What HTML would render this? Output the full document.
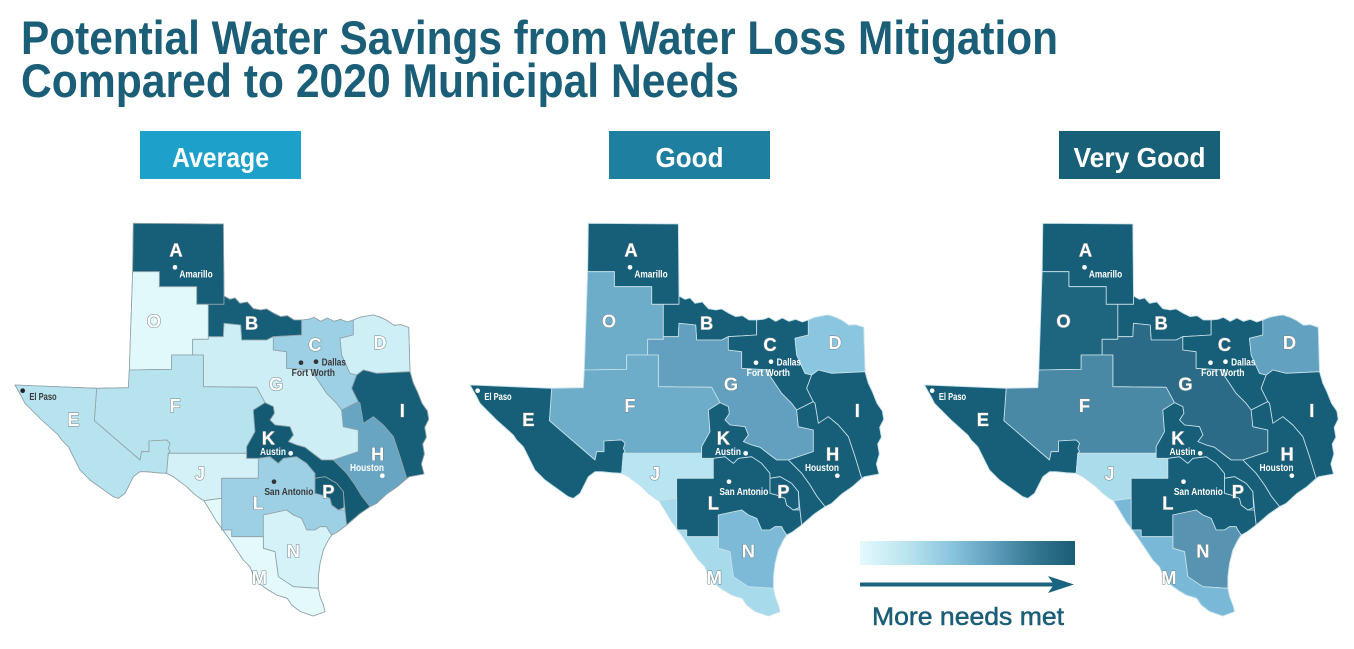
<!DOCTYPE html>
<html>
<head>
<meta charset="utf-8">
<style>
html,body{margin:0;padding:0;background:#ffffff;}
svg{display:block;}
.t{font-family:"Liberation Sans",sans-serif;font-weight:bold;fill:#1a5e77;}
.lt{font-family:"Liberation Sans",sans-serif;font-weight:bold;font-size:55px;fill:#ffffff;stroke:#6f8288;stroke-width:3;paint-order:stroke;text-anchor:middle;}
.ct{font-family:"Liberation Sans",sans-serif;font-weight:bold;font-size:29px;}
</style>
</head>
<body>
<svg width="1354" height="649" viewBox="0 0 1354 649" xmlns="http://www.w3.org/2000/svg">
<defs>
<linearGradient id="lg" x1="0" y1="0" x2="1" y2="0">
<stop offset="0" stop-color="#e3fafd"/>
<stop offset="0.22" stop-color="#b9e4ef"/>
<stop offset="0.42" stop-color="#8bc6df"/>
<stop offset="0.62" stop-color="#5f9ebc"/>
<stop offset="0.82" stop-color="#33768f"/>
<stop offset="1" stop-color="#1a5c75"/>
</linearGradient>
<polygon id="pOUT" points="400,40 670,42 672,258 690,268 705,264 720,280 742,276 760,296 782,300 800,297 822,310 842,320 862,317 882,330 905,330 925,328 942,322 962,334 982,324 1002,334 1022,328 1042,336 1060,330 1080,322 1100,318 1120,315 1142,322 1162,332 1182,346 1202,344 1226,352 1230,485 1240,520 1252,545 1266,580 1282,603 1286,628 1274,652 1279,682 1268,702 1273,732 1264,762 1272,792 1228,800 1192,830 1160,852 1130,880 1110,890 1078,912 1040,945 1012,966 995,975 985,990 970,1020 960,1060 955,1100 955,1135 960,1160 970,1185 975,1205 940,1218 900,1204 875,1185 862,1165 830,1155 805,1140 780,1122 762,1100 750,1070 730,1050 710,1020 690,990 670,962 650,935 632,905 612,872 600,865 580,850 560,830 540,815 520,800 500,790 470,788 440,785 420,785 400,800 385,830 375,850 355,865 340,860 305,835 270,810 240,780 220,740 205,710 185,690 175,675 125,630 95,600 75,580 65,560 45,525 290,535 385,533 388,480 398,185"/>
<polygon id="pA" points="400,40 670,42 672,258 672,283 590,283 590,230 478,230 478,185 398,185"/>
<polygon id="pO" points="398,185 478,185 478,230 590,230 590,283 625,283 625,388 578,388 578,435 515,435 515,478 388,480"/>
<polygon id="pB" points="625,283 672,283 672,258 690,268 705,264 720,280 742,276 760,296 782,300 800,297 822,310 842,320 862,317 882,330 905,330 905,375 820,380 800,390 725,390 722,345 672,340 670,380 625,380"/>
<polygon id="pG" points="578,388 625,388 625,380 670,380 672,340 722,345 725,390 800,390 820,380 820,420 860,425 860,475 945,480 940,490 980,550 1010,580 1025,600 1030,650 1075,660 1075,725 1000,750 965,750 945,735 915,712 890,705 865,695 880,675 870,650 825,645 810,630 823,610 820,590 795,578 770,532 610,530 610,435 578,435"/>
<polygon id="pC" points="905,330 925,328 942,322 962,334 982,324 1002,334 1022,328 1042,336 1060,330 1060,375 1020,385 1025,435 1050,490 1070,495 1055,535 1075,575 1025,600 1010,580 980,550 940,490 945,480 860,475 860,425 820,420 820,380 905,375"/>
<polygon id="pD" points="1060,330 1080,322 1100,318 1120,315 1142,322 1162,332 1182,346 1202,344 1226,352 1230,485 1130,490 1090,480 1070,495 1050,490 1025,435 1020,385 1060,375"/>
<polygon id="pI" points="1090,480 1130,490 1230,485 1240,520 1252,545 1266,580 1282,603 1286,628 1274,652 1279,682 1268,702 1273,732 1264,762 1272,792 1228,800 1220,805 1200,740 1180,680 1150,645 1120,620 1090,640 1080,580 1075,575 1055,535 1070,495"/>
<polygon id="pH" points="1025,600 1075,575 1080,580 1090,640 1120,620 1150,645 1180,680 1200,740 1220,805 1192,830 1160,852 1130,880 1110,890 1085,858 1065,825 1040,790 1010,760 1000,750 1075,725 1075,660 1030,650"/>
<polygon id="pK" points="760,600 795,578 820,590 823,610 810,630 825,645 870,650 880,675 865,695 890,705 915,712 945,735 965,750 1000,750 1010,760 1040,790 1065,825 1085,858 1110,890 1078,912 1040,945 1035,900 1030,845 1010,820 975,800 945,805 945,790 920,760 890,740 850,745 835,760 810,740 775,745 740,745 740,710 765,665"/>
<polygon id="pP" points="945,805 975,800 1010,820 1030,845 1032,893 1015,900 995,885 990,865 965,855 945,850"/>
<polygon id="pL" points="665,805 775,805 775,745 810,740 835,760 850,745 890,740 920,760 945,790 945,850 965,855 990,865 995,885 1015,900 1035,900 1040,945 1012,966 995,975 985,960 980,950 960,950 945,960 920,960 905,925 880,915 860,900 790,915 790,980 695,980 695,960 665,960"/>
<polygon id="pJ" points="505,730 740,730 740,745 775,745 775,805 665,805 665,865 612,872 600,865 580,850 560,830 540,815 520,800 500,790"/>
<polygon id="pE" points="45,525 290,535 283,632 420,750 425,725 447,725 447,693 500,690 510,700 505,715 510,725 505,730 500,790 470,788 440,785 420,785 400,800 385,830 375,850 355,865 340,860 305,835 270,810 240,780 220,740 205,710 185,690 175,675 125,630 95,600 75,580 65,560"/>
<polygon id="pF" points="290,535 385,533 388,480 515,478 515,435 610,435 610,530 770,532 795,578 760,600 765,665 740,710 740,730 505,730 510,725 505,715 510,700 500,690 447,693 447,725 425,725 420,750 283,632"/>
<polygon id="pM" points="612,872 665,865 665,960 695,960 695,980 790,980 790,1015 825,1025 835,1100 880,1130 955,1135 960,1160 970,1185 975,1205 940,1218 900,1204 875,1185 862,1165 830,1155 805,1140 780,1122 762,1100 750,1070 730,1050 710,1020 690,990 670,962 650,935 632,905"/>
<polygon id="pN" points="790,915 860,900 880,915 905,925 920,960 945,960 960,950 980,950 985,960 995,975 985,990 970,1020 960,1060 955,1100 955,1135 880,1130 835,1100 825,1025 790,1015"/>
</defs>

<!-- Title -->
<text class="t" x="21" y="54" font-size="47" textLength="1037" lengthAdjust="spacingAndGlyphs">Potential Water Savings from Water Loss Mitigation</text>
<text class="t" x="21" y="97" font-size="47" textLength="718" lengthAdjust="spacingAndGlyphs">Compared to 2020 Municipal Needs</text>

<!-- Label boxes -->
<rect x="140" y="131" width="161" height="48" fill="#1da1cb"/>
<text x="220.5" y="167" font-family="Liberation Sans, sans-serif" font-weight="bold" font-size="28" fill="#ffffff" text-anchor="middle" textLength="97" lengthAdjust="spacingAndGlyphs">Average</text>
<rect x="609" y="131" width="161" height="48" fill="#1e7fa0"/>
<text x="689.5" y="167" font-family="Liberation Sans, sans-serif" font-weight="bold" font-size="28" fill="#ffffff" text-anchor="middle" textLength="68" lengthAdjust="spacingAndGlyphs">Good</text>
<rect x="1059" y="131" width="161" height="48" fill="#185f78"/>
<text x="1139.5" y="167" font-family="Liberation Sans, sans-serif" font-weight="bold" font-size="28" fill="#ffffff" text-anchor="middle" textLength="132" lengthAdjust="spacingAndGlyphs">Very Good</text>

<!-- Map 1: Average -->
<g transform="translate(0,210) scale(0.333333)" stroke="#8fa3aa" stroke-width="2.5" stroke-linejoin="round">
<use href="#pOUT" fill="#cdeef5"/>
<use href="#pA" fill="#175e78"/>
<use href="#pO" fill="#e2f9fc"/>
<use href="#pB" fill="#175e78"/>
<use href="#pG" fill="#cdeef5"/>
<use href="#pC" fill="#9dcfe5"/>
<use href="#pD" fill="#cfeff6"/>
<use href="#pI" fill="#175e78"/>
<use href="#pH" fill="#68a5c2"/>
<use href="#pF" fill="#b7e3ef"/>
<use href="#pE" fill="#b7e3ef"/>
<use href="#pJ" fill="#d3f1f7"/>
<use href="#pL" fill="#9dcfe5"/>
<use href="#pN" fill="#d4f2f7"/>
<use href="#pM" fill="#e3f9fc"/>
<use href="#pK" fill="#155a73"/>
<use href="#pP" fill="#155a73"/>
<g stroke="none">
<text class="lt" x="528" y="139">A</text>
<text class="lt" x="462" y="352">O</text>
<text class="lt" x="755" y="358">B</text>
<text class="lt" x="945" y="423">C</text>
<text class="lt" x="1140" y="417">D</text>
<text class="lt" x="828" y="541">G</text>
<text class="lt" x="525" y="606">F</text>
<text class="lt" x="220" y="648">E</text>
<text class="lt" x="1207" y="621">I</text>
<text class="lt" x="805" y="703">K</text>
<text class="lt" x="1133" y="751">H</text>
<text class="lt" x="600" y="810">J</text>
<text class="lt" x="775" y="898">L</text>
<text class="lt" x="985" y="864">P</text>
<text class="lt" x="880" y="1043">N</text>
<text class="lt" x="778" y="1122">M</text>
<circle cx="525" cy="172" r="7" fill="#ffffff"/>
<text class="ct" x="538" y="203" fill="#ffffff" textLength="100" lengthAdjust="spacingAndGlyphs">Amarillo</text>
<circle cx="948" cy="455" r="7" fill="#333333"/>
<circle cx="903" cy="458" r="7" fill="#333333"/>
<text class="ct" x="965" y="466" fill="#3a3a3a" textLength="73" lengthAdjust="spacingAndGlyphs">Dallas</text>
<text class="ct" x="875" y="498" fill="#3a3a3a" textLength="130" lengthAdjust="spacingAndGlyphs">Fort Worth</text>
<circle cx="68" cy="542" r="7" fill="#222222"/>
<text class="ct" x="88" y="570" fill="#3a3a3a" textLength="82" lengthAdjust="spacingAndGlyphs">El Paso</text>
<text class="ct" x="780" y="735" fill="#ffffff" textLength="78" lengthAdjust="spacingAndGlyphs">Austin</text>
<circle cx="872" cy="730" r="7" fill="#ffffff"/>
<text class="ct" x="1050" y="783" fill="#ffffff" textLength="102" lengthAdjust="spacingAndGlyphs">Houston</text>
<circle cx="1147" cy="797" r="7" fill="#ffffff"/>
<circle cx="822" cy="815" r="7" fill="#333333"/>
<text class="ct" x="793" y="855" fill="#3a3a3a" textLength="147" lengthAdjust="spacingAndGlyphs">San Antonio</text>
</g>
</g>

<!-- Map 2: Good -->
<g transform="translate(455,210) scale(0.333333)" stroke="#c6e1ea" stroke-width="2.5" stroke-linejoin="round">
<use href="#pOUT" fill="#639fbe"/>
<use href="#pA" fill="#175e78"/>
<use href="#pO" fill="#6eadca"/>
<use href="#pB" fill="#175e78"/>
<use href="#pG" fill="#639fbe"/>
<use href="#pC" fill="#175e78"/>
<use href="#pD" fill="#8bc6e1"/>
<use href="#pI" fill="#175e78"/>
<use href="#pH" fill="#175e78"/>
<use href="#pF" fill="#6eadca"/>
<use href="#pE" fill="#175e78"/>
<use href="#pJ" fill="#b8e5f1"/>
<use href="#pL" fill="#175e78"/>
<use href="#pN" fill="#7dbad8"/>
<use href="#pM" fill="#a7dbec"/>
<use href="#pK" fill="#175e78"/>
<use href="#pP" fill="#175e78"/>
<g stroke="none">
<text class="lt" x="528" y="139">A</text>
<text class="lt" x="462" y="352">O</text>
<text class="lt" x="755" y="358">B</text>
<text class="lt" x="945" y="423">C</text>
<text class="lt" x="1140" y="417">D</text>
<text class="lt" x="828" y="541">G</text>
<text class="lt" x="525" y="606">F</text>
<text class="lt" x="220" y="648">E</text>
<text class="lt" x="1207" y="621">I</text>
<text class="lt" x="805" y="703">K</text>
<text class="lt" x="1133" y="751">H</text>
<text class="lt" x="600" y="810">J</text>
<text class="lt" x="775" y="898">L</text>
<text class="lt" x="985" y="864">P</text>
<text class="lt" x="880" y="1043">N</text>
<text class="lt" x="778" y="1122">M</text>
<circle cx="525" cy="172" r="7" fill="#ffffff"/>
<text class="ct" x="538" y="203" fill="#ffffff" textLength="100" lengthAdjust="spacingAndGlyphs">Amarillo</text>
<circle cx="948" cy="455" r="7" fill="#ffffff"/>
<circle cx="903" cy="458" r="7" fill="#ffffff"/>
<text class="ct" x="965" y="466" fill="#ffffff" textLength="73" lengthAdjust="spacingAndGlyphs">Dallas</text>
<text class="ct" x="875" y="498" fill="#ffffff" textLength="130" lengthAdjust="spacingAndGlyphs">Fort Worth</text>
<circle cx="68" cy="542" r="7" fill="#ffffff"/>
<text class="ct" x="88" y="570" fill="#ffffff" textLength="82" lengthAdjust="spacingAndGlyphs">El Paso</text>
<text class="ct" x="780" y="735" fill="#ffffff" textLength="78" lengthAdjust="spacingAndGlyphs">Austin</text>
<circle cx="872" cy="730" r="7" fill="#ffffff"/>
<text class="ct" x="1050" y="783" fill="#ffffff" textLength="102" lengthAdjust="spacingAndGlyphs">Houston</text>
<circle cx="1147" cy="797" r="7" fill="#ffffff"/>
<circle cx="822" cy="815" r="7" fill="#ffffff"/>
<text class="ct" x="793" y="855" fill="#ffffff" textLength="147" lengthAdjust="spacingAndGlyphs">San Antonio</text>
</g>
</g>

<!-- Map 3: Very Good -->
<g transform="translate(909.5,210) scale(0.333333)" stroke="#c6e1ea" stroke-width="2.5" stroke-linejoin="round">
<use href="#pOUT" fill="#2b6b87"/>
<use href="#pA" fill="#175e78"/>
<use href="#pO" fill="#1e6580"/>
<use href="#pB" fill="#175e78"/>
<use href="#pG" fill="#2b6b87"/>
<use href="#pC" fill="#175e78"/>
<use href="#pD" fill="#62a1c0"/>
<use href="#pI" fill="#175e78"/>
<use href="#pH" fill="#175e78"/>
<use href="#pF" fill="#4a89a6"/>
<use href="#pE" fill="#175e78"/>
<use href="#pJ" fill="#aadcec"/>
<use href="#pL" fill="#175e78"/>
<use href="#pN" fill="#5894b2"/>
<use href="#pM" fill="#7ab8d7"/>
<use href="#pK" fill="#175e78"/>
<use href="#pP" fill="#175e78"/>
<g stroke="none">
<text class="lt" x="528" y="139">A</text>
<text class="lt" x="462" y="352">O</text>
<text class="lt" x="755" y="358">B</text>
<text class="lt" x="945" y="423">C</text>
<text class="lt" x="1140" y="417">D</text>
<text class="lt" x="828" y="541">G</text>
<text class="lt" x="525" y="606">F</text>
<text class="lt" x="220" y="648">E</text>
<text class="lt" x="1207" y="621">I</text>
<text class="lt" x="805" y="703">K</text>
<text class="lt" x="1133" y="751">H</text>
<text class="lt" x="600" y="810">J</text>
<text class="lt" x="775" y="898">L</text>
<text class="lt" x="985" y="864">P</text>
<text class="lt" x="880" y="1043">N</text>
<text class="lt" x="778" y="1122">M</text>
<circle cx="525" cy="172" r="7" fill="#ffffff"/>
<text class="ct" x="538" y="203" fill="#ffffff" textLength="100" lengthAdjust="spacingAndGlyphs">Amarillo</text>
<circle cx="948" cy="455" r="7" fill="#ffffff"/>
<circle cx="903" cy="458" r="7" fill="#ffffff"/>
<text class="ct" x="965" y="466" fill="#ffffff" textLength="73" lengthAdjust="spacingAndGlyphs">Dallas</text>
<text class="ct" x="875" y="498" fill="#ffffff" textLength="130" lengthAdjust="spacingAndGlyphs">Fort Worth</text>
<circle cx="68" cy="542" r="7" fill="#ffffff"/>
<text class="ct" x="88" y="570" fill="#ffffff" textLength="82" lengthAdjust="spacingAndGlyphs">El Paso</text>
<text class="ct" x="780" y="735" fill="#ffffff" textLength="78" lengthAdjust="spacingAndGlyphs">Austin</text>
<circle cx="872" cy="730" r="7" fill="#ffffff"/>
<text class="ct" x="1050" y="783" fill="#ffffff" textLength="102" lengthAdjust="spacingAndGlyphs">Houston</text>
<circle cx="1147" cy="797" r="7" fill="#ffffff"/>
<circle cx="822" cy="815" r="7" fill="#ffffff"/>
<text class="ct" x="793" y="855" fill="#ffffff" textLength="147" lengthAdjust="spacingAndGlyphs">San Antonio</text>
</g>
</g>

<!-- Legend -->
<rect x="860" y="541" width="215" height="24" fill="url(#lg)"/>
<line x1="860" y1="584.5" x2="1058" y2="584.5" stroke="#1a6480" stroke-width="4"/>
<polygon points="1048,576 1074,584.5 1048,593 1054,584.5" fill="#1a6480"/>
<text x="872" y="625" font-family="Liberation Sans, sans-serif" font-size="25" fill="#1a5e77" stroke="#1a5e77" stroke-width="0.5" textLength="192" lengthAdjust="spacingAndGlyphs">More needs met</text>
</svg>
</body>
</html>
